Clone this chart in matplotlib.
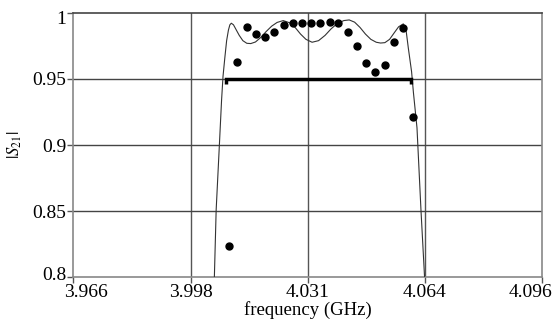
import matplotlib
matplotlib.use("Agg")
import matplotlib.pyplot as plt
from matplotlib.transforms import ScaledTranslation

# measured dots
meas_f = [4.0092, 4.0115, 4.0141, 4.0167, 4.0192, 4.0216, 4.0244, 4.0268, 4.0295,
          4.0320, 4.0343, 4.0371, 4.0394, 4.0422, 4.0446, 4.0472, 4.0496, 4.0524,
          4.0549, 4.0574, 4.0601]
meas_s = [0.8235, 0.963, 0.9896, 0.9839, 0.9821, 0.9859, 0.9909, 0.9927, 0.9927,
          0.9922, 0.9927, 0.9934, 0.9922, 0.9859, 0.975, 0.9623, 0.9553, 0.9606,
          0.9783, 0.9884, 0.9214]

# simulated response (thin line)
sim_f = [4.0051, 4.0056, 4.0064, 4.0071, 4.0075, 4.0080, 4.0085, 4.0090, 4.0094,
         4.0098, 4.0104, 4.0112, 4.0120, 4.0130, 4.0141, 4.0152, 4.0165, 4.0180,
         4.0195, 4.0210, 4.0225, 4.0242, 4.0260, 4.0275, 4.0290, 4.0305, 4.0322,
         4.0340, 4.0358, 4.0375, 4.0392, 4.0410, 4.0425, 4.0440, 4.0455, 4.0470,
         4.0485, 4.0500, 4.0512, 4.0524, 4.0537, 4.0550, 4.0562, 4.0575, 4.0582,
         4.0589, 4.0598, 4.0603, 4.0613, 4.0624, 4.0634]
sim_s = [0.800, 0.851, 0.895, 0.934, 0.952, 0.966, 0.979, 0.987, 0.991,
         0.9922, 0.991, 0.987, 0.983, 0.979, 0.977, 0.9768, 0.978, 0.9815,
         0.986, 0.990, 0.9928, 0.9942, 0.9925, 0.989, 0.984, 0.980, 0.9778,
         0.979, 0.983, 0.988, 0.992, 0.9942, 0.9947, 0.993, 0.989, 0.984,
         0.980, 0.9778, 0.9772, 0.9775, 0.980, 0.985, 0.9895, 0.9917, 0.9884,
         0.9733, 0.9555, 0.940, 0.913, 0.851, 0.800]

# specification bracket
spec_f = [4.0082, 4.0597]
spec_s = 0.95

xticks = [3.966, 3.9985, 4.031, 4.0635, 4.096]
xtick_labels = ["3.966", "3.998", "4.031", "4.064", "4.096"]
yticks = [0.8, 0.85, 0.9, 0.95, 1.0]
ytick_labels = ["0.8", "0.85", "0.9", "0.95", "1"]

plt.rcParams['font.family'] = ['Liberation Serif', 'DejaVu Serif']
plt.rcParams['mathtext.fontset'] = 'stix'

fig = plt.figure(figsize=(5.56, 3.23), dpi=100)
ax = fig.add_axes([0.132, 0.142, 0.843, 0.818])

ax.set_xlim(3.966, 4.096)
ax.set_ylim(0.8, 1.0)

for x in xticks[1:-1]:
    ax.axvline(x, color='#555555', lw=1.0, zorder=1)
for y in yticks[1:-1]:
    ax.axhline(y, color='#444444', lw=1.0, zorder=1)

ax.plot(sim_f, sim_s, color='#333333', lw=0.8, zorder=3)
ax.plot(meas_f, meas_s, 'o', color='black', ms=5, zorder=4)

# bracket
ax.plot([spec_f[0], spec_f[0], spec_f[1], spec_f[1]],
        [spec_s - 0.004, spec_s, spec_s, spec_s - 0.004],
        color='black', lw=2.5, solid_capstyle='butt', solid_joinstyle='miter', zorder=5)

ax.set_xticks(xticks)
ax.set_xticklabels(xtick_labels)
ax.set_yticks(yticks)
ax.set_yticklabels(ytick_labels)
ax.tick_params(axis='both', labelsize=14, length=4, color='#555555', width=1, pad=1)

# nudge end labels inward like the reference
xl = ax.get_xticklabels()
xl[0].set_transform(xl[0].get_transform() + ScaledTranslation(0.13, 0, fig.dpi_scale_trans))
xl[-1].set_transform(xl[-1].get_transform() + ScaledTranslation(-0.12, 0, fig.dpi_scale_trans))
yl = ax.get_yticklabels()
yl[0].set_transform(yl[0].get_transform() + ScaledTranslation(0, 0.04, fig.dpi_scale_trans))
yl[-1].set_transform(yl[-1].get_transform() + ScaledTranslation(0, -0.05, fig.dpi_scale_trans))

for s in ax.spines.values():
    s.set_color('#888888')
    s.set_linewidth(1.2)
ax.spines['top'].set_color('#444444')

ax.set_xlabel('frequency (GHz)', fontsize=13.5, labelpad=0)
ax.set_ylabel(r'$|S_{21}|$', fontsize=12, labelpad=6)

fig.savefig('out.png', dpi=100)
